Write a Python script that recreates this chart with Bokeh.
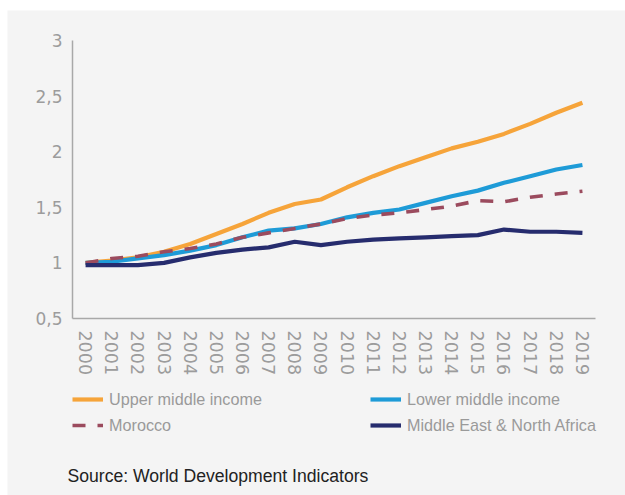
import numpy as np
from bokeh.plotting import figure
from bokeh.models import FixedTicker, Legend, LegendItem, Label, Range1d
from bokeh.embed import file_html
from bokeh.resources import INLINE

years = [str(y) for y in range(2000, 2020)]
upper_middle = [1.00, 1.02, 1.05, 1.10, 1.17, 1.26, 1.35, 1.45, 1.53, 1.57,
                1.68, 1.78, 1.87, 1.95, 2.03, 2.09, 2.16, 2.25, 2.35, 2.44]
lower_middle = [1.00, 1.01, 1.04, 1.07, 1.11, 1.16, 1.23, 1.29, 1.31, 1.35,
                1.41, 1.45, 1.48, 1.54, 1.60, 1.65, 1.72, 1.78, 1.84, 1.88]
morocco = [1.00, 1.04, 1.06, 1.10, 1.13, 1.17, 1.23, 1.27, 1.31, 1.35,
           1.40, 1.43, 1.45, 1.48, 1.51, 1.56, 1.55, 1.59, 1.62, 1.645]
mena = [0.98, 0.98, 0.98, 1.00, 1.05, 1.09, 1.12, 1.14, 1.19, 1.16,
        1.19, 1.21, 1.22, 1.23, 1.24, 1.25, 1.30, 1.28, 1.28, 1.27]
y_ticks = [0.5, 1.0, 1.5, 2.0, 2.5, 3.0]
y_tick_labels = ["0,5", "1", "1,5", "2", "2,5", "3"]
series_names = ["Upper middle income", "Lower middle income", "Morocco",
                "Middle East & North Africa"]
source_text = "Source: World Development Indicators"

x_idx = list(range(len(years)))

BG = "#f4f4f4"
styles = [dict(line_color="#f6a43a", line_width=4.2),
          dict(line_color="#1e9bd7", line_width=4.2),
          dict(line_color="#9b4b5e", line_width=3.6, line_dash="13 12"),
          dict(line_color="#262c6e", line_width=4.2)]

# frame spans the whole grey card; axes are pinned inside it
p = figure(width=618, height=485,
           x_range=Range1d(-2.9857, 20.647), y_range=Range1d(-1.0917, 3.2698),
           output_backend="svg", toolbar_location=None,
           min_border_left=0, min_border_right=0, min_border_top=0, min_border_bottom=0)
p.margin = (10, 0, 0, 7)
p.background_fill_color = BG
p.border_fill_color = BG
p.outline_line_color = None
p.xgrid.grid_line_color = None
p.ygrid.grid_line_color = None

renderers = [p.line(x_idx, vals, **st)
             for vals, st in zip([upper_middle, lower_middle, morocco, mena], styles)]

for ax in (p.xaxis[0], p.yaxis[0]):
    ax.axis_line_color = "#a8a8a8"
    ax.axis_line_width = 1.5
    ax.major_tick_line_color = None
    ax.minor_tick_line_color = None
    ax.major_tick_out = 0
    ax.major_tick_in = 0
    ax.major_label_text_color = "#9c9c9c"
    ax.major_label_text_font = "DejaVu Sans"

p.yaxis.fixed_location = -0.5
p.yaxis.bounds = (0.5, 3.0)
p.yaxis.ticker = FixedTicker(ticks=y_ticks)
p.yaxis.major_label_overrides = dict(zip(y_ticks, y_tick_labels))
p.yaxis.major_label_text_font_size = "17px"
p.yaxis.major_label_standoff = 10

p.xaxis.fixed_location = 0.5
p.xaxis.bounds = (-0.5, len(years) - 0.5)
p.xaxis.ticker = FixedTicker(ticks=x_idx)
p.xaxis.major_label_overrides = dict(zip(x_idx, years))
p.xaxis.major_label_orientation = -np.pi / 2
p.xaxis.major_label_text_font_size = "17.5px"
p.xaxis.major_label_standoff = 12

def make_legend(idx, loc):
    lg = Legend(items=[LegendItem(label=series_names[i], renderers=[renderers[i]]) for i in idx],
                location=loc, orientation="vertical")
    lg.background_fill_alpha = 0
    lg.border_line_color = None
    lg.padding = 0
    lg.margin = 0
    lg.spacing = 6
    lg.glyph_width = 31
    lg.glyph_height = 20
    lg.label_height = 20
    lg.label_standoff = 6
    lg.label_text_font = "Liberation Sans"
    lg.label_text_font_size = "16.2px"
    lg.label_text_color = "#9a9a9a"
    return lg

p.add_layout(make_legend([0, 2], (65, 60)))
p.add_layout(make_legend([1, 3], (363, 60)))

p.add_layout(Label(x=60, y=20, x_units="screen", y_units="screen", text=source_text,
                   text_font="Liberation Sans", text_font_size="17.6px",
                   text_color="#222222", text_baseline="alphabetic"))

open("out.html", "w").write(file_html(p, INLINE))
